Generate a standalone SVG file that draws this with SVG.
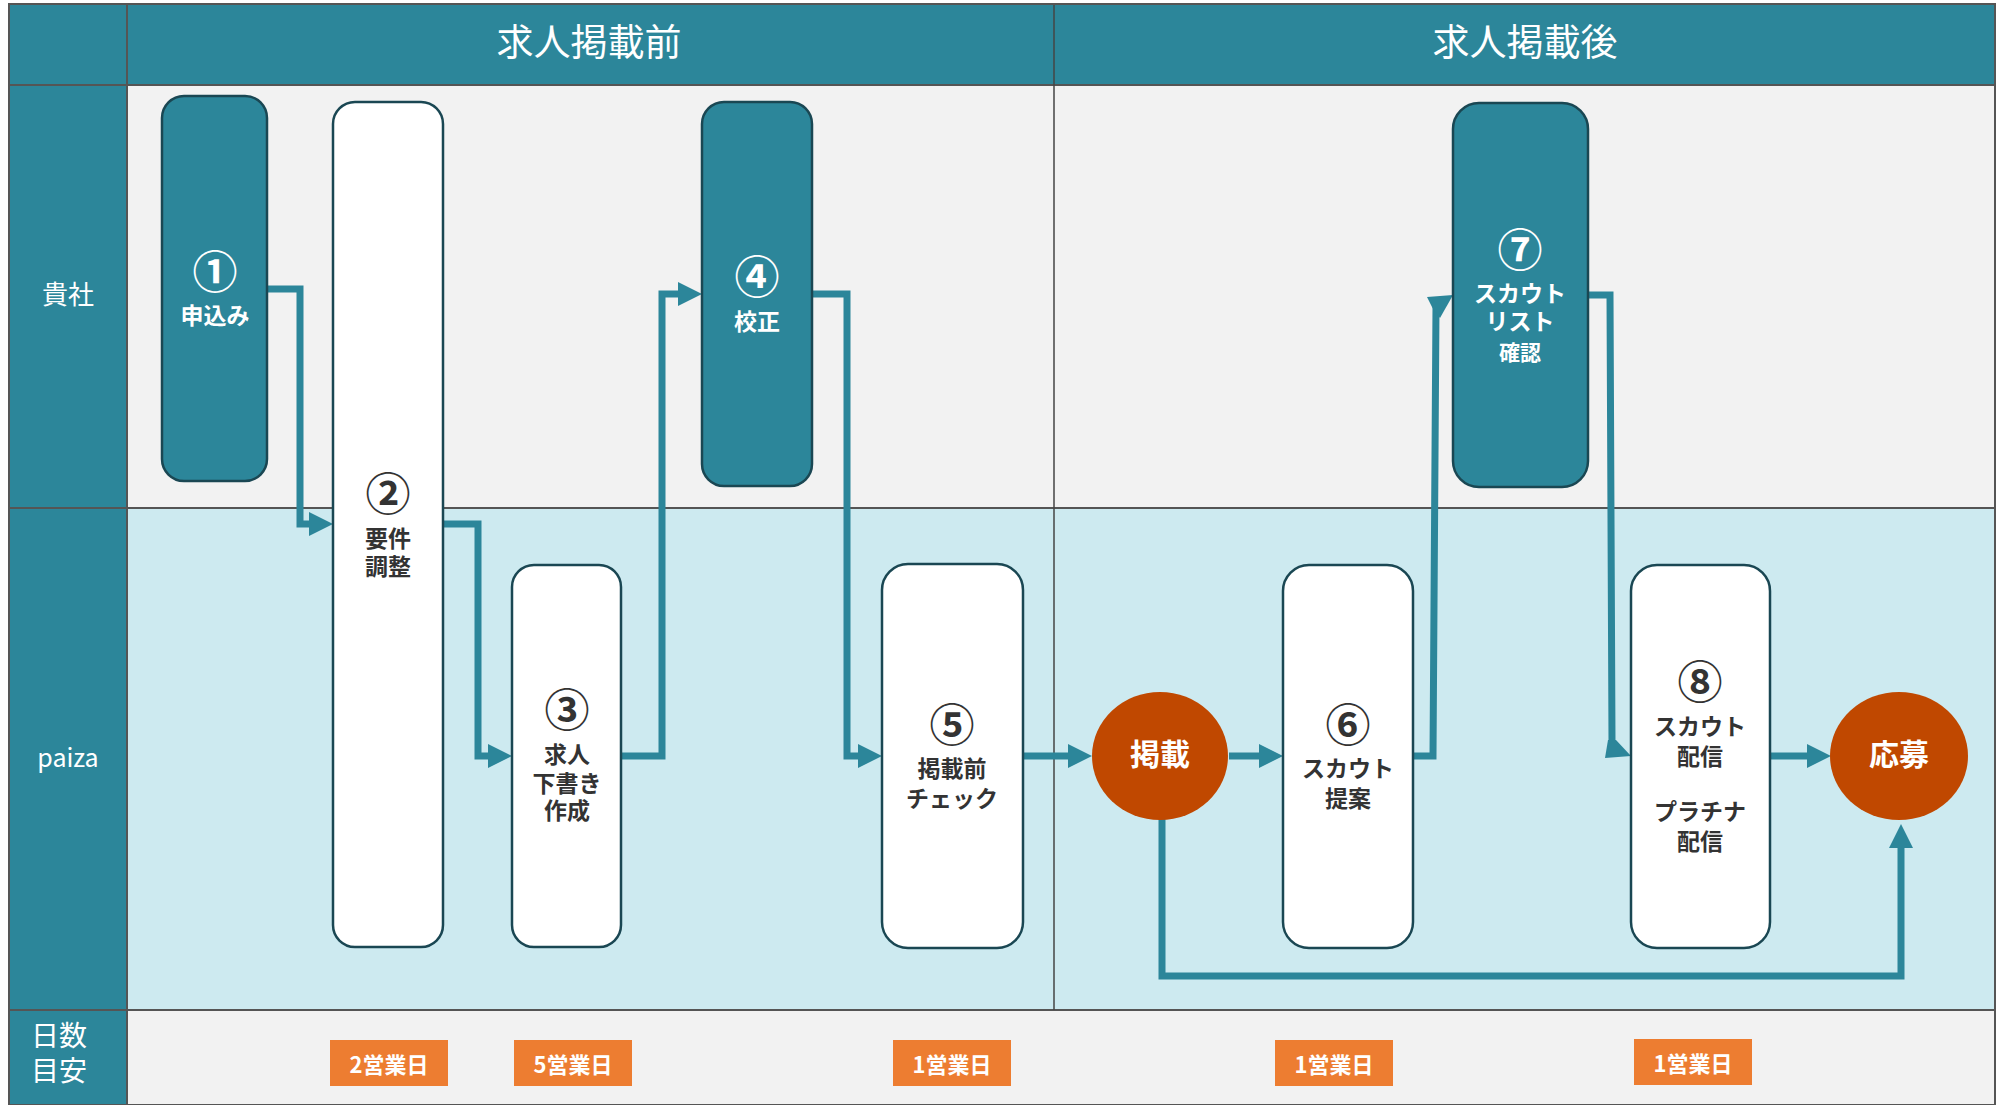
<svg xmlns="http://www.w3.org/2000/svg" width="1999" height="1105" viewBox="0 0 1999 1105">
<defs>
<style>
.lbl{font-family:"Noto Sans CJK JP","Noto Sans",sans-serif;fill:#ffffff;}
.hdr{font-family:"Noto Sans CJK JP","Noto Sans",sans-serif;fill:#ffffff;font-size:37px;text-anchor:middle;dominant-baseline:central;}
.nt{fill:#2c869a;stroke:#1a4753;stroke-width:2.5;}
.nw{fill:#ffffff;stroke:#1a4753;stroke-width:2.5;}
.t{font-family:"Noto Sans CJK JP","Noto Sans",sans-serif;font-weight:bold;font-size:23px;text-anchor:middle;dominant-baseline:central;}
.num{font-size:45px;}
.big{font-size:30px;}
.sm{font-size:21px;}
.dk{fill:#333333;}
.wh{fill:#ffffff;}
.c{fill:none;stroke:#2c869a;stroke-width:7;stroke-linejoin:miter;}
.ah{fill:#2c869a;}
.ev{fill:#c04800;}
.day{fill:#ed7d31;}
.dt{font-family:"Noto Sans CJK JP","Noto Sans",sans-serif;font-weight:bold;font-size:22px;fill:#ffffff;text-anchor:middle;dominant-baseline:central;}
.grid{stroke:#555555;stroke-width:2;fill:none;}
</style>
<marker id="arr" viewBox="0 0 24 24" markerUnits="userSpaceOnUse" markerWidth="24" markerHeight="24" refX="1" refY="12" orient="auto">
<path d="M0,0 L24,12 L0,24 z" fill="#2c869a"/>
</marker>
</defs>

<g id="background">
<rect x="9" y="4" width="1986" height="1101" fill="#f2f2f2"/>
<rect x="9" y="4" width="1986" height="81" fill="#2c869a"/>
<rect x="127" y="508" width="1868" height="502" fill="#cdeaf0"/>
<rect x="9" y="4" width="118" height="1101" fill="#2c869a"/>
<line class="grid" x1="9" y1="85" x2="1995" y2="85"/>
<line class="grid" x1="9" y1="508" x2="1995" y2="508"/>
<line class="grid" x1="9" y1="1010" x2="1995" y2="1010"/>
<line class="grid" x1="127" y1="4" x2="127" y2="1105"/>
<line x1="1054" y1="4" x2="1054" y2="1010" stroke="#444444" stroke-width="1.5"/>
<rect class="grid" x="9" y="4" width="1986" height="1101"/>
</g>

<g id="headers">
<text class="hdr" x="589" y="40">求人掲載前</text>
<text class="hdr" x="1525" y="40">求人掲載後</text>
</g>

<g id="lane-labels">
<text class="lbl" x="68" y="292" font-size="26" text-anchor="middle" dominant-baseline="central">貴社</text>
<text class="lbl" x="68" y="756" font-size="25" text-anchor="middle" dominant-baseline="central">paiza</text>
<text class="lbl" x="31" y="1034" font-size="28" dominant-baseline="central">日数</text>
<text class="lbl" x="31" y="1069" font-size="28" dominant-baseline="central">目安</text>
</g>

<g id="connectors">
<path class="c" d="M267,289 H300 V524 H310" marker-end="url(#arr)"/>
<path class="c" d="M443,524 H478 V756 H489" marker-end="url(#arr)"/>
<path class="c" d="M621,756 H662 V294 H679" marker-end="url(#arr)"/>
<path class="c" d="M812,294 H847 V756 H859" marker-end="url(#arr)"/>
<path class="c" d="M1023,756 H1069" marker-end="url(#arr)"/>
<path class="c" d="M1229,756 H1260" marker-end="url(#arr)"/>
<path class="c" d="M1413,756 H1433 L1436,306"/>
<polygon class="ah" points="1427,297 1453,295 1440,318 1432.5,308"/>
<path class="c" d="M1588,295 H1610 L1612,742"/>
<polygon class="ah" points="1608,740 1616,740 1631,756 1605,758"/>
<path class="c" d="M1162,818 V976 H1901 V847" marker-end="url(#arr)"/>
<path class="c" d="M1770,756 H1808" marker-end="url(#arr)"/>
</g>

<g id="node1">
<rect class="nt" x="162" y="96" width="105" height="385" rx="22"/>
<text class="t num wh" x="215" y="269">①</text>
<text class="t wh" x="215" y="314">申込み</text>
</g>
<g id="node2">
<rect class="nw" x="333" y="102" width="110" height="845" rx="22"/>
<text class="t num dk" x="388" y="491">②</text>
<text class="t dk" x="388" y="537">要件</text>
<text class="t dk" x="388" y="565">調整</text>
</g>
<g id="node3">
<rect class="nw" x="512" y="565" width="109" height="382" rx="22"/>
<text class="t num dk" x="567" y="707">③</text>
<text class="t dk" x="567" y="753">求人</text>
<text class="t dk" x="567" y="782">下書き</text>
<text class="t dk" x="567" y="809">作成</text>
</g>
<g id="node4">
<rect class="nt" x="702" y="102" width="110" height="384" rx="22"/>
<text class="t num wh" x="757" y="274">④</text>
<text class="t wh" x="757" y="320">校正</text>
</g>
<g id="node5">
<rect class="nw" x="882" y="564" width="141" height="384" rx="26"/>
<text class="t num dk" x="952" y="722">⑤</text>
<text class="t dk" x="952" y="767">掲載前</text>
<text class="t dk" x="952" y="797">チェック</text>
</g>
<g id="event-keisai">
<ellipse class="ev" cx="1160" cy="756" rx="68" ry="64"/>
<text class="t big wh" x="1160" y="752">掲載</text>
</g>
<g id="node6">
<rect class="nw" x="1283" y="565" width="130" height="383" rx="26"/>
<text class="t num dk" x="1348" y="722">⑥</text>
<text class="t dk" x="1348" y="767">スカウト</text>
<text class="t dk" x="1348" y="797">提案</text>
</g>
<g id="node7">
<rect class="nt" x="1453" y="103" width="135" height="384" rx="26"/>
<text class="t num wh" x="1520" y="247">⑦</text>
<text class="t wh" x="1520" y="292">スカウト</text>
<text class="t wh" x="1520" y="320">リスト</text>
<text class="t sm wh" x="1520" y="351">確認</text>
</g>
<g id="node8">
<rect class="nw" x="1631" y="565" width="139" height="383" rx="26"/>
<text class="t num dk" x="1700" y="679">⑧</text>
<text class="t dk" x="1700" y="725">スカウト</text>
<text class="t dk" x="1700" y="755">配信</text>
<text class="t dk" x="1700" y="810">プラチナ</text>
<text class="t dk" x="1700" y="840">配信</text>
</g>
<g id="event-oubo">
<ellipse class="ev" cx="1899" cy="756" rx="69" ry="64"/>
<text class="t big wh" x="1899" y="752">応募</text>
</g>

<g id="days">
<rect class="day" x="330" y="1040" width="118" height="46"/>
<text class="dt" x="389" y="1063">2営業日</text>
<rect class="day" x="514" y="1040" width="118" height="46"/>
<text class="dt" x="573" y="1063">5営業日</text>
<rect class="day" x="893" y="1040" width="118" height="46"/>
<text class="dt" x="952" y="1063">1営業日</text>
<rect class="day" x="1275" y="1040" width="118" height="46"/>
<text class="dt" x="1334" y="1063">1営業日</text>
<rect class="day" x="1634" y="1039" width="118" height="46"/>
<text class="dt" x="1693" y="1062">1営業日</text>
</g>
</svg>
